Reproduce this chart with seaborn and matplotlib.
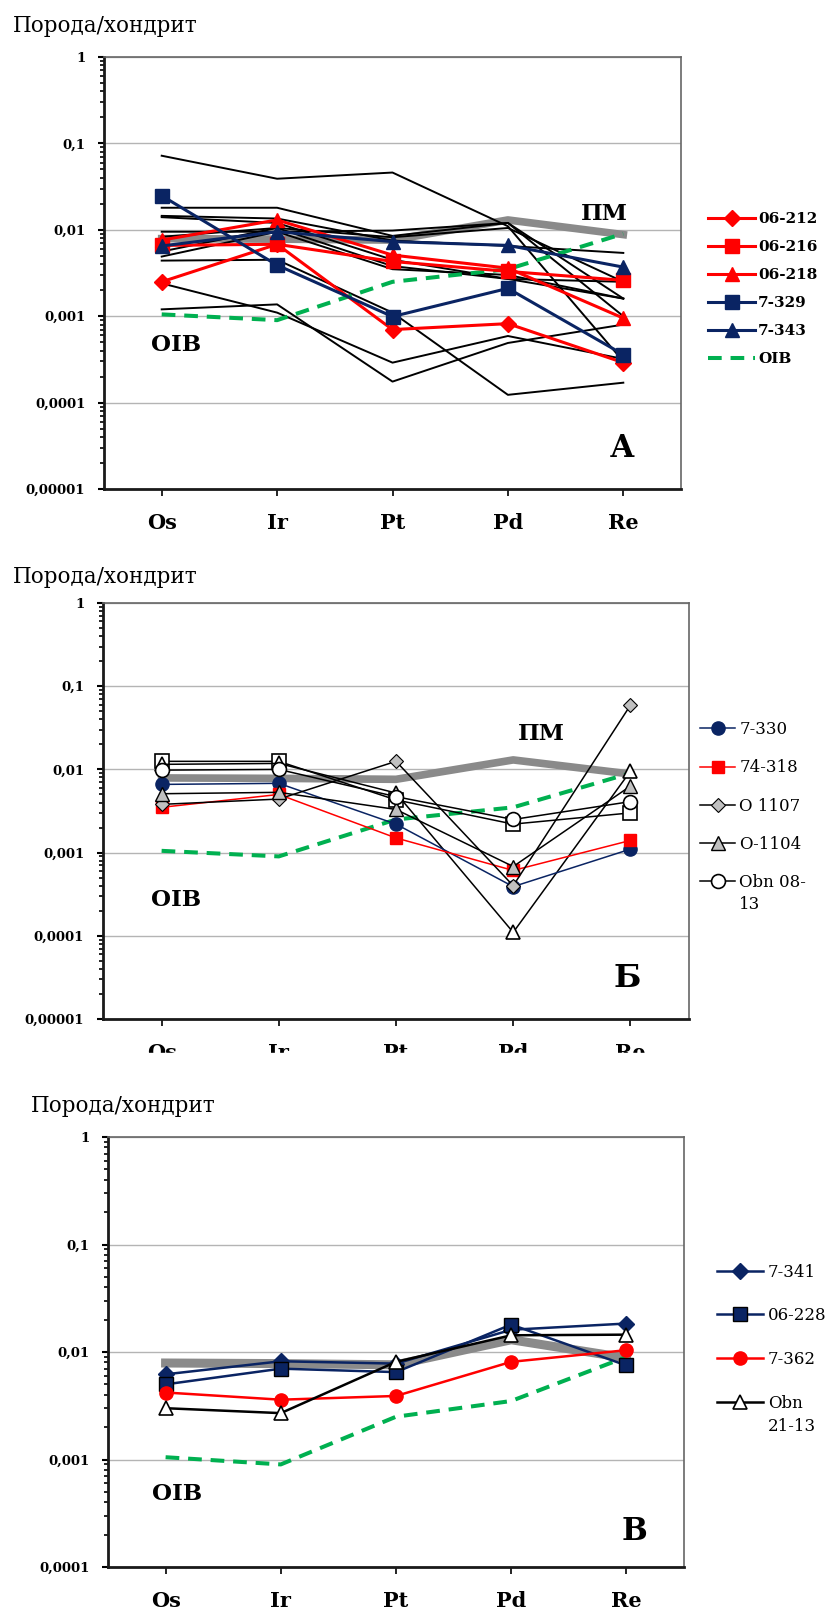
import numpy as np
import matplotlib
matplotlib.use("Agg")
import matplotlib.pyplot as plt
import seaborn as sns
from matplotlib.ticker import LogLocator, NullFormatter
from matplotlib.patches import Rectangle

# ---------------- data ----------------
elements = ["Os", "Ir", "Pt", "Pd", "Re"]

pm = [0.0079, 0.0078, 0.0076, 0.013, 0.0088]
oib = [0.00105, 0.0009, 0.0025, 0.0035, 0.009]

# panel A (named samples)
a_06_212 = [0.0025, 0.0068, 0.0007, 0.00082, 0.00029]
a_06_216 = [0.0066, 0.0068, 0.0043, 0.0033, 0.0026]
a_06_218 = [0.0076, 0.013, 0.0051, 0.0036, 0.00095]
a_7_329 = [0.0248, 0.0039, 0.00099, 0.0021, 0.00036]
a_7_343 = [0.0065, 0.0095, 0.0073, 0.0066, 0.0037]
# panel A (other samples, black lines)
a_s01 = [0.072, 0.039, 0.046, 0.011, 0.0003]
a_s02 = [0.018, 0.018, 0.0085, 0.012, 0.001]
a_s03 = [0.0145, 0.0135, 0.0075, 0.0065, 0.0054]
a_s04 = [0.014, 0.012, 0.0045, 0.0027, 0.0016]
a_s05 = [0.0095, 0.0095, 0.0098, 0.012, 0.0016]
a_s06 = [0.0083, 0.0105, 0.0082, 0.0105, 0.0025]
a_s07 = [0.0056, 0.0105, 0.0038, 0.0027, 0.0025]
a_s08 = [0.0049, 0.0095, 0.0035, 0.003, 0.0016]
a_s09 = [0.0044, 0.0045, 0.0011, 0.000123, 0.00017]
a_s10 = [0.0024, 0.0011, 0.00029, 0.00059, 0.00032]
a_s11 = [0.0012, 0.00137, 0.000175, 0.00049, 0.0008]

# panel Б
b_7_330 = [0.0066, 0.0068, 0.0022, 0.00039, 0.0011]
b_74_318 = [0.0035, 0.005, 0.0015, 0.00061, 0.0014]
b_o1107 = [0.0038, 0.0044, 0.0125, 0.0004, 0.059]
b_o1104 = [0.0051, 0.0053, 0.0033, 0.00068, 0.0063]
b_obn0813 = [0.0098, 0.010, 0.0047, 0.0025, 0.0041]
b_extra_sq = [0.0125, 0.0125, 0.0043, 0.0022, 0.003]
b_extra_tri = [0.0115, 0.0118, 0.0052, 0.00011, 0.0095]

# panel В
c_7_341 = [0.0062, 0.0082, 0.0078, 0.0161, 0.0184]
c_06_228 = [0.0050, 0.0070, 0.0065, 0.018, 0.0075]
c_7_362 = [0.0042, 0.0036, 0.0039, 0.0081, 0.0104]
c_obn2113 = [0.0030, 0.0027, 0.0081, 0.0143, 0.0145]

legend_a = ["06-212", "06-216", "06-218", "7-329", "7-343", "OIB"]
legend_b = ["7-330", "74-318", "O 1107", "O-1104", "Obn 08-"]
legend_b_wrap = "13"
legend_c = ["7-341", "06-228", "7-362", "Obn"]
legend_c_wrap = "21-13"

ytitle = "Порода/хондрит"

# ---------------- style ----------------
RED = "#FF0000"
NAVY = "#0a2463"
GREEN = "#00B050"
PMGRAY = "#8a8a8a"
LGRAY = "#c0c0c0"

plt.rcParams["font.family"] = ["DejaVu Serif"]

W, H = 833, 1609
fig = plt.figure(figsize=(W / 100, H / 100), dpi=100)


def rect(l, t, r, b):
    return [l / W, 1 - b / H, (r - l) / W, (b - t) / H]


xpos = np.arange(len(elements))


def draw(ax, vals, color, lw, marker=None, ms=0, mfc=None, mec=None, mew=1.0,
         ls="-", z=2):
    kw = dict(color=color, linewidth=lw, linestyle=ls, zorder=z)
    if marker is not None:
        kw.update(marker=marker, markersize=ms,
                  markerfacecolor=mfc if mfc is not None else color,
                  markeredgecolor=mec if mec is not None else color,
                  markeredgewidth=mew)
    sns.lineplot(x=xpos, y=vals, ax=ax, errorbar=None, sort=False,
                 legend=False, **kw)
    return ax.lines[-1]


def dec_label(k):
    return "1" if k == 0 else "0," + "0" * (k - 1) + "1"


def style_axes(ax, kmin):
    ax.set_yscale("log")
    ax.set_ylim(10.0 ** (-kmin), 1)
    ax.set_xlim(-0.5, 4.5)
    decs = [10.0 ** (-k) for k in range(kmin, -1, -1)]
    ax.set_yticks(decs)
    ax.set_yticklabels([dec_label(k) for k in range(kmin, -1, -1)],
                       fontweight="bold", fontsize=9.5)
    ax.yaxis.set_minor_locator(LogLocator(base=10, subs=np.arange(2, 10), numticks=30))
    ax.yaxis.set_minor_formatter(NullFormatter())
    ax.set_xticks(xpos)
    ax.set_xticklabels(elements, fontweight="bold", fontsize=15)
    ax.tick_params(axis="y", which="major", direction="out", length=4, width=1.5,
                   pad=9.5, left=True, right=False)
    ax.tick_params(axis="y", which="minor", direction="out", length=3, width=1.2,
                   left=True, right=False)
    ax.tick_params(axis="x", which="both", direction="out", length=5, width=1.2,
                   pad=12.5, bottom=True, top=False)
    ax.yaxis.grid(True, which="major", color="#b4b4b4", linewidth=1.0)
    ax.xaxis.grid(False)
    ax.set_axisbelow(True)
    for s in ("left", "bottom"):
        ax.spines[s].set_linewidth(2.0)
        ax.spines[s].set_color("#1a1a1a")
    for s in ("top", "right"):
        ax.spines[s].set_linewidth(1.2)
        ax.spines[s].set_color("#666666")
    ax.set_xlabel("")
    ax.set_ylabel("")
    ax.set_facecolor("white")


def ftext(x, y, s, **kw):
    return fig.text(x / W, 1 - y / H, s, **kw)


OIBDASH = (0, (3.4, 2.2))

# ================= Panel A =================
axA = fig.add_axes(rect(104, 57, 681, 489))
draw(axA, pm, PMGRAY, 5.5, z=2)
for s in (a_s01, a_s02, a_s03, a_s04, a_s05, a_s06, a_s07, a_s08, a_s09, a_s10, a_s11):
    draw(axA, s, "black", 1.4, z=3)
hA = []
hA.append(draw(axA, a_06_212, RED, 2.2, "D", 8, z=5))
hA.append(draw(axA, a_06_216, RED, 2.2, "s", 9.5, z=5))
hA.append(draw(axA, a_06_218, RED, 2.2, "^", 9.5, z=5))
hA.append(draw(axA, a_7_329, NAVY, 2.2, "s", 9.5, z=5))
hA.append(draw(axA, a_7_343, NAVY, 2.2, "^", 9.5, z=5))
hA.append(draw(axA, oib, GREEN, 2.9, ls=OIBDASH, z=4))
style_axes(axA, 5)
axA.legend(hA, legend_a, loc="upper left", bbox_to_anchor=(708 / W, 1 - 211.9 / H),
           bbox_transform=fig.transFigure, frameon=False, borderpad=0, borderaxespad=0,
           handlelength=3.08, handletextpad=0.2, labelspacing=0.92,
           prop=dict(family="DejaVu Serif", weight="bold", size=11))
ftext(12.5, 32.3, ytitle, fontsize=15.5, ha="left", va="baseline")
ftext(176, 351, "OIB", fontsize=16.5, fontweight="bold", ha="center", va="baseline")
ftext(604, 220, "ПМ", fontsize=16.5, fontweight="bold", ha="center", va="baseline")
ftext(622, 457, "А", fontsize=22, fontweight="bold", ha="center", va="baseline")

# ================= Panel Б =================
axB = fig.add_axes(rect(103, 603, 689, 1019))
draw(axB, pm, PMGRAY, 5.5, z=2)
draw(axB, oib, GREEN, 2.9, ls=OIBDASH, z=3)
draw(axB, b_extra_sq, "black", 1.1, "s", 10, mfc="white", mec="black", mew=1.2, z=4)
draw(axB, b_extra_tri, "black", 1.1, "^", 10.5, mfc="white", mec="black", mew=1.2, z=4)
hB = []
hB.append(draw(axB, b_7_330, NAVY, 1.1, "o", 9.5, z=5))
hB.append(draw(axB, b_74_318, RED, 1.1, "s", 8.5, z=5))
hB.append(draw(axB, b_o1107, "black", 1.1, "D", 7, mfc=LGRAY, mec="black", mew=0.8, z=5))
hB.append(draw(axB, b_o1104, "black", 1.1, "^", 10, mfc=LGRAY, mec="black", mew=1.0, z=5))
hB.append(draw(axB, b_obn0813, "black", 1.1, "o", 10, mfc="white", mec="black", mew=1.2, z=5))
style_axes(axB, 5)
legB = axB.legend(hB, legend_b, loc="upper left", bbox_to_anchor=(700 / W, 1 - 721.2 / H),
                  bbox_transform=fig.transFigure, frameon=False, borderpad=0, borderaxespad=0,
                  handlelength=2.1, handletextpad=0.26, labelspacing=1.27,
                  prop=dict(family="DejaVu Serif", size=12))
ftext(12.5, 582.7, ytitle, fontsize=15.5, ha="left", va="baseline")
ftext(176, 906, "OIB", fontsize=16.5, fontweight="bold", ha="center", va="baseline")
ftext(541, 740, "ПМ", fontsize=16.5, fontweight="bold", ha="center", va="baseline")
ftext(627, 987, "Б", fontsize=23, fontweight="bold", ha="center", va="baseline")

# ================= Panel В =================
axC = fig.add_axes(rect(108, 1137, 684, 1567))
draw(axC, pm, PMGRAY, 6.5, z=2)
draw(axC, oib, GREEN, 2.9, ls=OIBDASH, z=3)
hC = []
hC.append(draw(axC, c_7_341, NAVY, 1.8, "D", 8, z=5))
hC.append(draw(axC, c_06_228, NAVY, 1.8, "s", 10, mfc=NAVY, mec="black", mew=1.0, z=5))
hC.append(draw(axC, c_7_362, RED, 1.8, "o", 9.5, z=5))
hC.append(draw(axC, c_obn2113, "black", 1.8, "^", 10.5, mfc="white", mec="black", mew=1.2, z=5))
style_axes(axC, 4)
legC = axC.legend(hC, legend_c, loc="upper left", bbox_to_anchor=(717 / W, 1 - 1263.6 / H),
                  bbox_transform=fig.transFigure, frameon=False, borderpad=0, borderaxespad=0,
                  handlelength=2.76, handletextpad=0.3, labelspacing=1.6,
                  prop=dict(family="DejaVu Serif", size=12))
ftext(31, 1111.7, ytitle, fontsize=15.5, ha="left", va="baseline")
ftext(177, 1500, "OIB", fontsize=16.5, fontweight="bold", ha="center", va="baseline")
ftext(634, 1540, "В", fontsize=22, fontweight="bold", ha="center", va="baseline")

# wrapped second lines of the last legend labels (aligned under the first line)
fig.canvas.draw()
renderer = fig.canvas.get_renderer()
for leg, wrap, step in ((legB, legend_b_wrap, 22.0), (legC, legend_c_wrap, 23.0)):
    t = leg.get_texts()[-1]
    bb = t.get_window_extent(renderer)
    base_y = bb.y0 + 0.236 * 12 * 100 / 72  # baseline of the first line (px from bottom)
    fig.text(bb.x0 / W, (base_y - step) / H, wrap, fontsize=12,
             family="DejaVu Serif", ha="left", va="baseline")

# white band clipping the lower part of panel Б's category labels
fig.patches.append(Rectangle((0, 1 - 1080 / H), 1, (1080 - 1053) / H,
                             transform=fig.transFigure, color="white", zorder=10))

fig.savefig("out.png", dpi=100, facecolor="white")
